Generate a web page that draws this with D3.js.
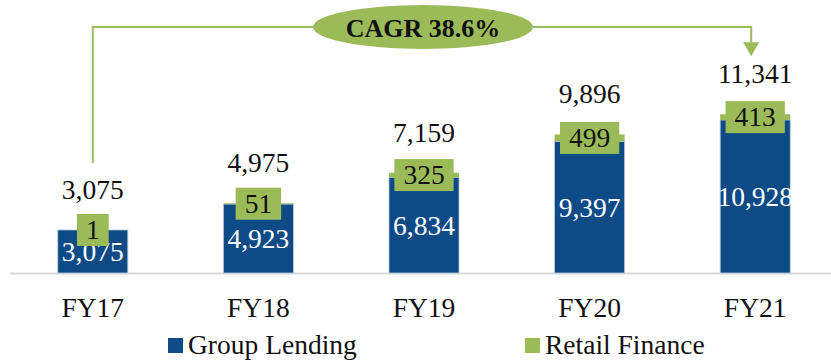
<!DOCTYPE html>
<html>
<head>
<meta charset="utf-8">
<script src="https://cdn.jsdelivr.net/npm/d3@7"></script>
<style>
  html, body { margin: 0; padding: 0; background: #ffffff; }
  svg { display: block; }
  text { font-family: "Liberation Serif", "DejaVu Serif", serif; }
</style>
</head>
<body>
<svg id="chart" width="831" height="361"></svg>
<script>
// Loan book by fiscal year, split by business line
const categories = ["FY17", "FY18", "FY19", "FY20", "FY21"];
const groupLending = [3075, 4923, 6834, 9397, 10928];
const retailFinance = [1, 51, 325, 499, 413];
const totals = [3075, 4975, 7159, 9896, 11341];
const seriesNames = ["Group Lending", "Retail Finance"];
const cagrLabel = "CAGR 38.6%";

const colors = { blue: "#0d4a86", green: "#9bbb59", axis: "#d9d9d9" };
const fmt = d3.format(",");
const FS = 27.5;

const svg = d3.select("#chart");

const x = d3.scaleBand()
  .domain(categories)
  .range([10, 838])
  .paddingInner(0.577)
  .paddingOuter(0.2885);

const y = d3.scaleLinear()
  .domain([0, 14000])
  .range([273, 77]);

const bw = x.bandwidth();
const cx = c => x(c) + bw / 2;

const rows = categories.map((c, i) => ({
  cat: c, gl: groupLending[i], rf: retailFinance[i], total: totals[i]
}));

// Baseline
const axisG = svg.append("g").attr("transform", `translate(0,${y(0)})`);
axisG.call(d3.axisBottom(x).tickSize(0).tickFormat(""));
axisG.select(".domain").attr("stroke", colors.axis).attr("stroke-width", 2)
  .attr("d", "M10,0.5H831");

// Stacked bars
const stack = d3.stack().keys(["gl", "rf"])(rows);
const fills = [colors.blue, colors.green];
stack.forEach((layer, li) => {
  svg.append("g").selectAll("rect")
    .data(layer)
    .join("rect")
    .attr("x", d => x(d.data.cat))
    .attr("width", bw)
    .attr("y", d => y(d[1]))
    .attr("height", d => y(d[0]) - y(d[1]))
    .attr("fill", fills[li])
    .attr("stroke", li === 0 ? "#b8cbe0" : "none")
    .attr("stroke-width", 0.8);
});

// Group Lending values inside the blue segment
svg.append("g").selectAll("text")
  .data(rows)
  .join("text")
  .attr("x", d => cx(d.cat))
  .attr("y", d => y(d.gl / 2))
  .attr("dy", "0.36em")
  .attr("text-anchor", "middle")
  .attr("font-size", FS)
  .attr("fill", "#ffffff")
  .text(d => fmt(d.gl));

// Retail Finance values on a green tag at the top of the stack
const tags = svg.append("g").selectAll("g")
  .data(rows)
  .join("g")
  .attr("transform", d => `translate(${cx(d.cat)},${y(d.gl + d.rf / 2)})`);
tags.append("text")
  .attr("text-anchor", "middle")
  .attr("dy", "0.33em")
  .attr("font-size", FS)
  .attr("fill", "#111111")
  .text(d => fmt(d.rf));
tags.each(function () {
  const g = d3.select(this);
  const t = g.select("text");
  const w = t.node().getComputedTextLength();
  g.insert("rect", "text")
    .attr("x", -w / 2 - 9)
    .attr("y", -16)
    .attr("width", w + 18)
    .attr("height", 32)
    .attr("fill", colors.green);
});

// Totals above each bar
svg.append("g").selectAll("text")
  .data(rows)
  .join("text")
  .attr("x", d => cx(d.cat))
  .attr("y", d => y(d.gl + d.rf) - 31)
  .attr("text-anchor", "middle")
  .attr("font-size", FS)
  .attr("fill", "#111111")
  .text(d => fmt(d.total));

// Category labels
svg.append("g").selectAll("text")
  .data(categories)
  .join("text")
  .attr("x", d => cx(d))
  .attr("y", 317)
  .attr("text-anchor", "middle")
  .attr("font-size", FS)
  .attr("fill", "#111111")
  .text(d => d);

// Legend
const legendX = [168, 525];
const legend = svg.append("g").selectAll("g")
  .data(seriesNames)
  .join("g")
  .attr("transform", (d, i) => `translate(${legendX[i]},338)`);
legend.append("rect")
  .attr("width", 15).attr("height", 15)
  .attr("fill", (d, i) => fills[i]);
legend.append("text")
  .attr("x", 20).attr("y", 16)
  .attr("font-size", FS)
  .attr("fill", "#111111")
  .text(d => d);

// CAGR growth callout from first to last bar
const first = rows[0], last = rows[rows.length - 1];
const lineY = 27;
const x0 = cx(first.cat);
const x1 = cx(last.cat) - 4;
const ex = cx(categories[2]) - 1;
const rx = 110, ry = 22;
const tipY = y(last.gl + last.rf) - 58;
const annot = svg.append("g");
annot.append("path")
  .attr("d", `M${x0},${y(first.gl + first.rf) - 67}V${lineY}H${ex - rx}`)
  .attr("fill", "none").attr("stroke", colors.green).attr("stroke-width", 2);
annot.append("path")
  .attr("d", `M${ex + rx},${lineY}H${x1}V${tipY - 14}`)
  .attr("fill", "none").attr("stroke", colors.green).attr("stroke-width", 2);
annot.append("path")
  .attr("d", `M${x1 - 8},${tipY - 14}L${x1 + 8},${tipY - 14}L${x1},${tipY}Z`)
  .attr("fill", colors.green);
annot.append("ellipse")
  .attr("cx", ex).attr("cy", lineY)
  .attr("rx", rx).attr("ry", ry)
  .attr("fill", colors.green);
annot.append("text")
  .attr("x", ex).attr("y", lineY)
  .attr("dy", "0.37em")
  .attr("text-anchor", "middle")
  .attr("font-size", 26)
  .attr("font-weight", "bold")
  .attr("fill", "#111111")
  .text(cagrLabel);
</script>
</body>
</html>
